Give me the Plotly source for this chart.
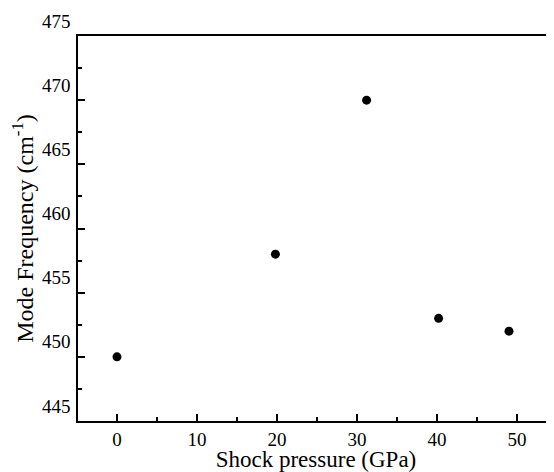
import plotly.graph_objects as go

pressure = [0, 19.8, 31.2, 40.2, 49.0]
frequency = [450.0, 458.0, 470.0, 453.0, 452.0]

y_ticks = [445, 450, 455, 460, 465, 470, 475]
x_ticks = [0, 10, 20, 30, 40, 50]

FONT = "Liberation Serif, Times New Roman, serif"

fig = go.Figure()
fig.add_trace(go.Scatter(
    x=pressure, y=frequency, mode="markers",
    marker=dict(color="black", size=9),
    showlegend=False,
    cliponaxis=False,
))

# page body has an 8px default margin, so the figure is sized/offset to compensate
fig.update_layout(
    width=546, height=464,
    margin=dict(l=70, r=0, t=28, b=51),
    paper_bgcolor="white", plot_bgcolor="white",
    font=dict(family=FONT, color="black", size=19),
)
fig.update_xaxes(
    automargin=False,
    range=[-4.875, 54.625],
    tickvals=x_ticks, ticktext=[str(v) for v in x_ticks],
    ticks="inside", ticklen=7, tickwidth=1.5, tickcolor="black",
    minor=dict(dtick=5, tick0=0, ticks="inside", ticklen=4, tickwidth=1.5, tickcolor="black"),
    showline=True, linecolor="black", linewidth=1.5, mirror=True,
    showgrid=False, zeroline=False,
    tickfont=dict(size=19),
    title=dict(text="Shock pressure (GPa)", font=dict(size=23), standoff=3),
)
fig.update_yaxes(
    automargin=False,
    range=[445, 475],
    tickvals=y_ticks, ticktext=[str(v) for v in y_ticks],
    ticks="inside", ticklen=7, tickwidth=1.5, tickcolor="black",
    minor=dict(dtick=2.5, tick0=445, ticks="inside", ticklen=4, tickwidth=1.5, tickcolor="black"),
    showline=True, linecolor="black", linewidth=1.5, mirror=False,
    showgrid=False, zeroline=False,
    tickfont=dict(size=19),
    ticklabelshift=-15,
    ticklabelstandoff=2,
    title=dict(text="Mode Frequency (cm<sup>-1</sup>)", font=dict(size=24), standoff=12),
)

fig.write_html("out.html")
